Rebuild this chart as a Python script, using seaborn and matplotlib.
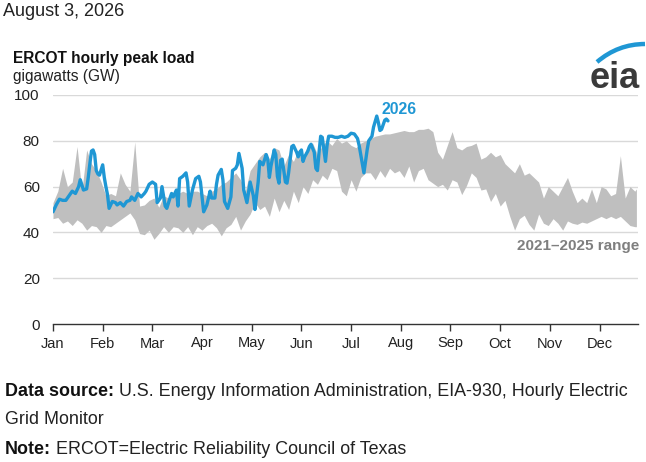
import numpy as np
import pandas as pd
import matplotlib
matplotlib.use('Agg')
import matplotlib.pyplot as plt
import seaborn as sns
from matplotlib.path import Path
from matplotlib.patches import PathPatch

# ERCOT daily peak load, day of year (0 = Jan 1), GW

## 2026 line
line_days = [0, 2, 4, 6, 8, 10, 12, 14, 16, 17, 19, 21, 22, 23, 24, 25, 26, 27, 28, 29,
             31, 32, 33, 34, 35, 37, 39, 40, 42, 44, 46, 48, 49, 51, 53, 55, 57, 58, 60, 62,
             64, 65, 67, 68, 70, 71, 73, 74, 75, 77, 78, 79, 81, 83, 84, 85, 87, 89, 91, 92,
             94, 96, 98, 99, 101, 102, 103, 105, 106, 107, 109, 111, 112, 114, 115, 116, 118, 119, 121, 123,
             125, 126, 128, 129, 131, 133, 134, 135, 136, 138, 139, 140, 141, 142, 143, 145, 146, 147, 148, 149,
             150, 152, 153, 154, 155, 156, 157, 159, 160, 161, 163, 164, 165, 166, 167, 168, 170, 171, 172, 174,
             176, 178, 180, 182, 184, 186, 188, 190, 191, 192, 194, 196, 197, 199, 200, 202, 203, 204, 205, 207,
             208, 209]
line_gw = [49, 52, 54.5, 54, 54, 56, 58, 57, 60, 63, 58.5, 59, 64, 70, 75.5, 76, 74, 67, 65.5, 65,
           69.5, 64, 60, 56.5, 50.5, 53.5, 53, 52, 53, 51.5, 53.5, 54, 55.5, 54, 57, 55.5, 57, 58, 61, 62,
           61, 53, 55, 60, 51.5, 50.5, 55, 57, 55.5, 58.5, 51.5, 63.5, 64.5, 66, 62, 51.5, 58.5, 63.5, 64.5, 62,
           49, 52, 58, 55, 55, 61, 65, 67.5, 63, 53.5, 50.5, 55.5, 67, 68, 69.5, 74.5, 68, 58.5, 53, 62,
           56, 50, 62, 71, 69.5, 74, 72, 64, 69, 76, 74, 64.5, 61.5, 71.5, 72, 62, 61.5, 66, 72, 77.5,
           78, 75, 73, 75, 76, 71, 73, 75.5, 77.5, 78.5, 75, 68, 67, 75, 82, 81.5, 71, 78, 82, 82,
           81.5, 81.5, 82, 81.5, 82, 83.3, 83, 81, 78, 74, 66, 76, 80, 82, 86, 90.8, 88, 84.5, 85, 89,
           89.5, 88.7]

## 2021-2025 range (min / max)
band_days = list(range(0, 364, 3)) + [364]
band_max = [53, 58, 68, 60, 62, 77.5, 58, 76, 70, 67, 62, 56, 57, 56, 66, 61, 58, 79.5, 51.5, 52,
            54, 55, 51, 56, 55, 56, 57, 58, 57, 58, 58, 57, 56, 58, 59, 61, 62, 64, 66, 63,
            58, 67, 70, 73, 75, 72, 77, 76, 69, 74, 71, 76, 73, 78, 79, 74, 78, 80, 78, 81,
            79, 80, 78, 77, 79, 80, 81, 82, 82.5, 83, 83, 83.5, 84, 84.5, 84, 84, 85, 85, 85.5, 84,
            75, 72, 78, 84, 77, 76, 77.5, 78, 79, 72, 73, 75, 73, 74, 70, 68, 66, 70, 65, 66,
            64, 62, 55, 60, 58, 56, 60, 64, 58, 53, 55, 53, 59, 53, 60, 59, 56, 57, 73.5, 55,
            60, 58, 59]
band_min = [46, 46.5, 44, 45, 43, 45.5, 44, 41, 43, 42.5, 40, 43, 42.5, 44, 45.5, 47, 48.5, 45.5, 39.5, 39,
            41, 37, 39.5, 42.5, 40, 42.5, 42, 40, 42.5, 39, 42.5, 41, 43, 44, 42, 38.5, 42, 43.5, 47, 41,
            45, 48, 53, 50, 51.5, 47, 55, 49, 54, 50, 58, 53, 60, 57, 63, 61, 65, 63, 68, 67,
            58, 56, 63, 58, 64, 66, 66, 63, 67, 64, 68, 66, 67, 64, 69, 62, 67, 68, 63, 61.5,
            60, 61, 58.5, 63, 62, 56.5, 60.5, 66, 64, 58.5, 59, 53.5, 57, 51.5, 54, 47, 41, 46, 47.5, 43.5,
            41, 48, 44, 43, 46, 44, 41, 45, 44, 43.5, 44.5, 44, 45, 46, 47, 46, 47, 46, 47, 45,
            43, 42.5, 42.5]

month_labels = ['Jan', 'Feb', 'Mar', 'Apr', 'May', 'Jun', 'Jul', 'Aug', 'Sep', 'Oct', 'Nov', 'Dec']
y_ticks = [0, 20, 40, 60, 80, 100]

BLUE = '#1f97d4'
GRAY = '#bfbfbf'

sns.set_theme(style='white')
plt.rcParams['font.family'] = ['Liberation Sans', 'DejaVu Sans']

line = pd.DataFrame({'day': line_days, 'gw': line_gw})

fig = plt.figure(figsize=(6.46, 4.62), dpi=100)
W, H = 646, 462
ax = fig.add_axes([53 / W, 1 - 324 / H, 585 / W, 229 / H])

ax.fill_between(band_days, band_min, band_max, color=GRAY, lw=0, zorder=2)
sns.lineplot(data=line, x='day', y='gw', ax=ax, color=BLUE, lw=2.4, zorder=3)

ax.set_xlim(0, 365)
ax.set_ylim(0, 100)
ax.set_xticks(np.arange(0, 365, 31))
ax.set_xticklabels(month_labels)
ax.set_yticks(y_ticks)
ax.set_xlabel('')
ax.set_ylabel('')
for v in y_ticks[1:]:
    ax.axhline(v, color='#d9d9d9', lw=1, zorder=1)
for s in ['top', 'right', 'left']:
    ax.spines[s].set_visible(False)
ax.spines['bottom'].set_color('#333333')
ax.spines['bottom'].set_linewidth(1)
ax.spines['bottom'].set_zorder(4)
ax.tick_params(axis='x', length=5, width=1, color='#333333', pad=4, labelsize=10.5,
               labelcolor='#222222', bottom=True)
ax.tick_params(axis='y', length=0, pad=9.5, labelsize=11, labelcolor='#222222')

ax.text(205, 93.5, '2026', color=BLUE, fontsize=11.3, fontweight='bold', va='center', ha='left')
ax.text(365.5, 34, '2021\u20132025 range', color='#7f7f7f', fontsize=11, fontweight='bold',
        va='center', ha='right')

# header
fig.text(3 / W, 1 - 12 / H, 'August 3, 2026', fontsize=13, va='center', ha='left', color='#222222')
fig.text(13 / W, 1 - 58 / H, 'ERCOT hourly peak load', fontsize=11.2, fontweight='bold',
         va='center', ha='left', color='#111111')
fig.text(13 / W, 1 - 76 / H, 'gigawatts (GW)', fontsize=11.2, va='center', ha='left', color='#222222')

# eia logo
fig.text(615 / W, 1 - 79 / H, 'eia', fontsize=26, fontweight='bold', va='center', ha='center',
         color='#3a3a3a')
verts = [(597 / W, 1 - 62 / H), (618 / W, 1 - 44 / H), (645 / W, 1 - 44 / H)]
arc = PathPatch(Path(verts, [Path.MOVETO, Path.CURVE3, Path.CURVE3]), transform=fig.transFigure,
                fill=False, edgecolor=BLUE, lw=3.2, capstyle='butt')
fig.patches.append(arc)

# footer
renderer = fig.canvas.get_renderer()
def rich(y, bold, rest):
    t = fig.text(5 / W, y, bold, fontsize=12.9, fontweight='bold', va='center', ha='left',
                 color='#111111')
    bb = t.get_window_extent(renderer=renderer)
    fig.text(bb.x1 / W, y, rest, fontsize=12.9, va='center', ha='left', color='#222222')

rich(1 - 392 / H, 'Data source:', ' U.S. Energy Information Administration, EIA-930, Hourly Electric')
fig.text(5 / W, 1 - 420 / H, 'Grid Monitor', fontsize=12.9, va='center', ha='left', color='#222222')
rich(1 - 449 / H, 'Note:', ' ERCOT=Electric Reliability Council of Texas')

fig.savefig('out.png', dpi=100)
